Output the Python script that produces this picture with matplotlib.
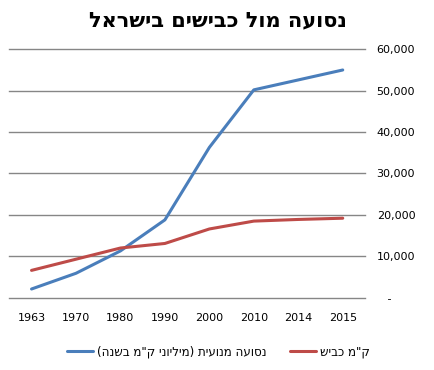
import matplotlib
matplotlib.use("Agg")
import matplotlib.pyplot as plt
from matplotlib.ticker import FuncFormatter

# data
years = ['1963', '1970', '1980', '1990', '2000', '2010', '2014', '2015']
travel = [2100, 5900, 11300, 18800, 36300, 50200, 52600, 55000]   # million km per year
roads = [6600, 9300, 12000, 13100, 16600, 18500, 18900, 19200]    # km of road

title = 'נסועה מול כבישים בישראל'
label_travel = 'נסועה מנועית (מיליוני ק"מ בשנה)'
label_roads = 'ק"מ כביש'


def visual(s):
    # matplotlib has no bidi support: reverse and mirror brackets by hand
    swap = {'(': ')', ')': '('}
    return ''.join(swap.get(c, c) for c in s[::-1])


plt.rcParams['font.family'] = ['DejaVu Sans']
fig = plt.figure(figsize=(4.35, 3.7), dpi=100)
ax = fig.add_axes([0.0214, 0.1954, 0.8176, 0.6714])

x = range(len(years))
ax.plot(x, travel, color='#4A7EBB', lw=2.2, label=visual(label_travel), solid_capstyle='round')
ax.plot(x, roads, color='#BE4B48', lw=2.2, label=visual(label_roads), solid_capstyle='round')

ax.set_xlim(-0.5, len(years) - 0.5)
ax.set_ylim(0, 60000)
ax.set_yticks(range(0, 60001, 10000))
ax.yaxis.set_major_formatter(FuncFormatter(lambda v, p: '   -' if v == 0 else f'{int(v):,}'))
ax.yaxis.tick_right()
ax.set_xticks(list(x))
ax.set_xticklabels(years)
ax.tick_params(axis='both', length=0, labelsize=8, colors='black')
ax.tick_params(axis='y', pad=8.4)
ax.tick_params(axis='x', pad=11)
ax.grid(axis='y', color='#868686', lw=1)
for gl in ax.get_ygridlines():
    gl.set_clip_on(False)
ax.set_axisbelow(True)
for s in ['top', 'left', 'right', 'bottom']:
    ax.spines[s].set_visible(False)

fig.text(0.5, 0.946, visual(title), ha='center', va='center', fontsize=15, fontweight='bold')

fig.legend(loc='center', bbox_to_anchor=(0.502, 0.049), ncol=2, frameon=False, fontsize=8.6,
           handlelength=2.2, handletextpad=0.3, columnspacing=2.0)

fig.savefig('out.png', dpi=100)
